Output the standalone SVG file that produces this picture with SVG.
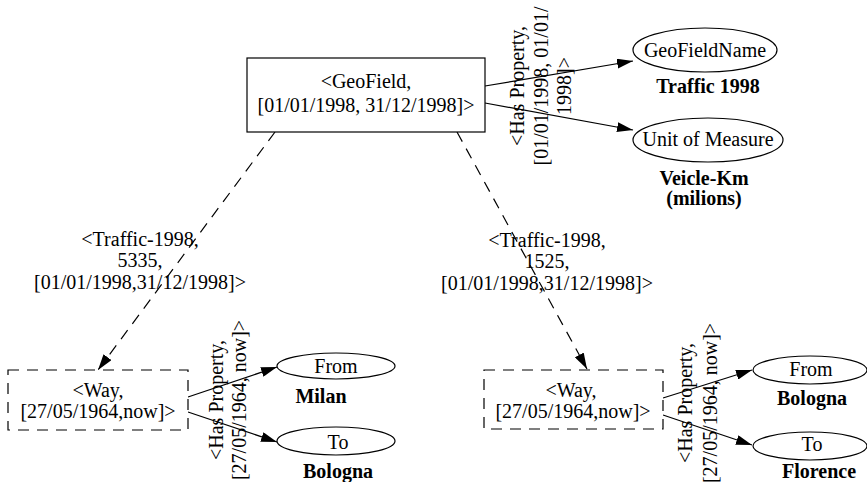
<svg xmlns="http://www.w3.org/2000/svg" width="867" height="482" viewBox="0 0 867 482">
  <defs>
    <style>
      text { font-family: "Liberation Serif", "Times New Roman", serif; font-size: 20px; fill: #000; }
      .c { text-anchor: middle; }
      .b { font-weight: bold; text-anchor: middle; }
      .node { fill: #fff; stroke: #000; stroke-width: 1.2; }
      .dash { stroke-dasharray: 11 8; }
      .edge { fill: none; stroke: #000; stroke-width: 1.2; }
    </style>
    <marker id="arrow" viewBox="0 0 16 10" refX="16" refY="5" markerWidth="16" markerHeight="10" markerUnits="userSpaceOnUse" orient="auto">
      <path d="M0,0 L16,5 L0,10 Z" fill="#000" stroke="none"/>
    </marker>
  </defs>
  <rect width="867" height="482" fill="#fff"/>

  <!-- connectors -->
  <g id="edges">
    <line class="edge" x1="485" y1="86" x2="633" y2="61" marker-end="url(#arrow)"/>
    <line class="edge" x1="485" y1="103" x2="633" y2="130" marker-end="url(#arrow)"/>
    <line class="edge dash" x1="275" y1="132" x2="98" y2="370" marker-end="url(#arrow)"/>
    <line class="edge dash" x1="457" y1="132" x2="587" y2="369" marker-end="url(#arrow)"/>
    <line class="edge" x1="188" y1="397" x2="277" y2="367" marker-end="url(#arrow)"/>
    <line class="edge" x1="188" y1="412" x2="277" y2="442" marker-end="url(#arrow)"/>
    <line class="edge" x1="663" y1="398" x2="752" y2="370" marker-end="url(#arrow)"/>
    <line class="edge" x1="663" y1="415" x2="752" y2="445" marker-end="url(#arrow)"/>

    <text transform="translate(524,86) rotate(-90)" class="c">&lt;Has Property,</text>
    <text transform="translate(548,86) rotate(-90)" class="c">[01/01/1998, 01/01/</text>
    <text transform="translate(571,86) rotate(-90)" class="c">1998]&gt;</text>

    <text x="140" y="246" class="c">&lt;Traffic-1998,</text>
    <text x="140" y="267" class="c">5335,</text>
    <text x="140" y="289" class="c">[01/01/1998,31/12/1998]&gt;</text>

    <text x="547" y="247" class="c">&lt;Traffic-1998,</text>
    <text x="547" y="268" class="c">1525,</text>
    <text x="547" y="290" class="c">[01/01/1998,31/12/1998]&gt;</text>

    <text transform="translate(223,400) rotate(-90)" class="c">&lt;Has Property,</text>
    <text transform="translate(246,400) rotate(-90)" class="c">[27/05/1964, now]&gt;</text>

    <text transform="translate(692,403) rotate(-90)" class="c">&lt;Has Property,</text>
    <text transform="translate(717,403) rotate(-90)" class="c">[27/05/1964, now]&gt;</text>
  </g>

  <g id="geofield">
    <rect class="node" x="247" y="58" width="238" height="74"/>
    <text x="366" y="88" class="c">&lt;GeoField,</text>
    <text x="366" y="112" class="c">[01/01/1998, 31/12/1998]&gt;</text>
  </g>

  <g id="geofieldname">
    <ellipse class="node" cx="705" cy="50" rx="72" ry="22"/>
    <text x="705" y="57" class="c">GeoFieldName</text>
    <text x="708" y="93" class="b">Traffic 1998</text>
  </g>

  <g id="unit">
    <ellipse class="node" cx="708" cy="140" rx="75" ry="22"/>
    <text x="708" y="146" class="c">Unit of Measure</text>
    <text x="704" y="185" class="b">Veicle-Km</text>
    <text x="704" y="205" class="b">(milions)</text>
  </g>

  <g id="way-milan">
    <rect class="node dash" x="8" y="370" width="180" height="60"/>
    <text x="98" y="397" class="c">&lt;Way,</text>
    <text x="98" y="418" class="c">[27/05/1964,now]&gt;</text>
  </g>

  <g id="from-milan">
    <ellipse class="node" cx="336" cy="366" rx="59" ry="13"/>
    <text x="336" y="373" class="c">From</text>
    <text x="321" y="403" class="b">Milan</text>
  </g>

  <g id="to-bologna">
    <ellipse class="node" cx="336" cy="441" rx="59" ry="14"/>
    <text x="338" y="449" class="c">To</text>
    <text x="338" y="478" class="b">Bologna</text>
  </g>

  <g id="way-bologna">
    <rect class="node dash" x="484" y="370" width="179" height="59"/>
    <text x="571" y="397" class="c">&lt;Way,</text>
    <text x="573" y="418" class="c">[27/05/1964,now]&gt;</text>
  </g>

  <g id="from-bologna">
    <ellipse class="node" cx="810" cy="370" rx="57" ry="14"/>
    <text x="811" y="376" class="c">From</text>
    <text x="812" y="405" class="b">Bologna</text>
  </g>

  <g id="to-florence">
    <ellipse class="node" cx="810" cy="446" rx="57" ry="14"/>
    <text x="812" y="451" class="c">To</text>
    <text x="819" y="478" class="b">Florence</text>
  </g>
</svg>
